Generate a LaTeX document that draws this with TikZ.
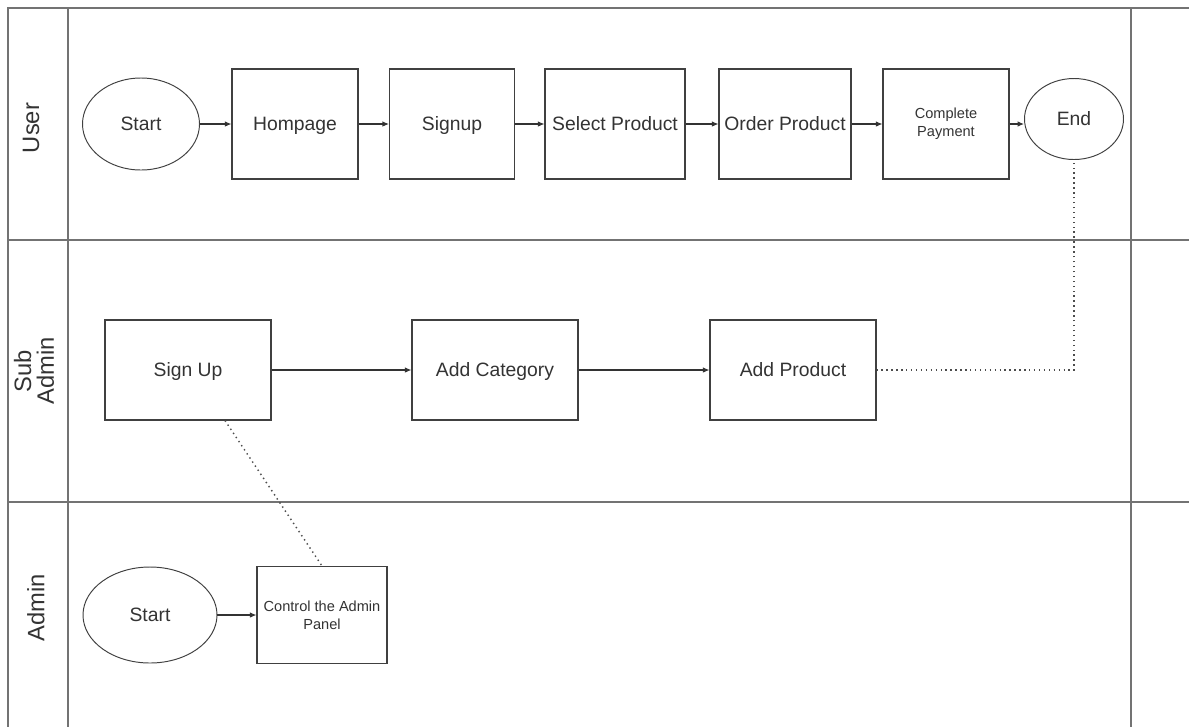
\documentclass[tikz,border=0pt]{standalone}
\usepackage{fontspec}
\setmainfont{Liberation Sans}
\usetikzlibrary{arrows.meta,shapes.geometric}

\begin{document}
\begin{tikzpicture}
[   proc/.style={draw=black!75,line width=0.6pt,minimum width=#1,minimum height=2.2cm,inner sep=1pt,text height=0.72em,text depth=0pt,text=black!80,font=\fontsize{11}{13}\selectfont},
    term/.style 2 args={draw=black!75,line width=0.55pt,ellipse,minimum width=#1,minimum height=#2,inner sep=0pt,text=black!80,font=\fontsize{11}{13}\selectfont},
    lane/.style={draw=black!55,line width=0.9pt},
    flow/.style={draw=black!80,line width=0.6pt,-{Latex[length=1.3mm,width=1.1mm]}},
    link/.style={draw=black!70,line width=0.8pt,dotted},
    lanename/.style={rotate=90,align=center,text=black!80,font=\fontsize{13.5}{13}\selectfont},
]

    \useasboundingbox (0,0) rectangle (23.78,-14.54);

    % swimlanes
    \draw[lane] (23.78,-0.16) -- (0.16,-0.16) -- (0.16,-14.54);
    \draw[lane] (1.36,-0.16) -- (1.36,-14.54);
    \draw[lane] (22.62,-0.16) -- (22.62,-14.54);
    \draw[lane] (0.16,-4.8) -- (23.78,-4.8);
    \draw[lane] (0.16,-10.04) -- (23.78,-10.04);

    \node[lanename] (luser) at (0.62,-2.56) {User};
    \node[lanename] (lsub) at (0.68,-7.42) {Sub\\Admin};
    \node[lanename] (ladmin) at (0.72,-12.16) {Admin};

    % user lane
    \node[term={2.34cm}{1.84cm}] (ustart) at (2.82,-2.48) {Start};
    \foreach \n/\x/\w/\t in {home/5.9/2.52/Hompage, sign/9.04/2.5/Signup, select/12.3/2.8/Select Product, order/15.7/2.64/Order Product}
    {   \node[proc=\w cm] (\n) at (\x,-2.48) {\t};
    }
    \node[proc=2.52cm,text height=,text depth=,align=center,font=\fontsize{8.3}{10}\selectfont] (pay) at (18.92,-2.48) {Complete\\Payment};
    \node[term={1.98cm}{1.62cm}] (uend) at (21.48,-2.38) {End};

    \foreach \a/\b in {ustart/home,home/sign,sign/select,select/order,order/pay}
    {   \draw[flow] (\a) -- (\b);
    }
    \draw[flow] (pay) -- (pay -| uend.west);

    % sub admin lane
    \node[proc=3.32cm,minimum height=2cm] (sasign) at (3.76,-7.4) {Sign Up};
    \node[proc=3.32cm,minimum height=2cm] (addcat) at (9.9,-7.4) {Add Category};
    \node[proc=3.32cm,minimum height=2cm] (addprod) at (15.86,-7.4) {Add Product};

    \draw[flow] (sasign) -- (addcat);
    \draw[flow] (addcat) -- (addprod);
    \draw[link] (addprod) -| (uend);

    % admin lane
    \node[term={2.68cm}{1.92cm}] (astart) at (3.0,-12.3) {Start};
    \node[proc=2.6cm,minimum height=1.94cm,text height=,text depth=,align=center,font=\fontsize{8.3}{10}\selectfont] (ctrl) at (6.44,-12.3) {Control the Admin\\Panel};

    \draw[flow] (astart) -- (ctrl);
    \draw[link] ([xshift=0.74cm]sasign.south) -- (ctrl.north);
\end{tikzpicture}
\end{document}
